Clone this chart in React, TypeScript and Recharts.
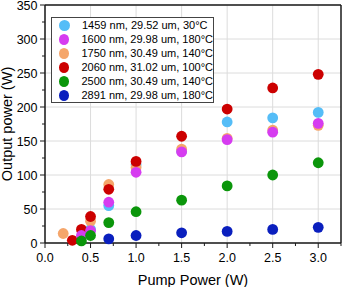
import { ScatterChart, Scatter, XAxis, YAxis, CartesianGrid, Legend } from "recharts"

// pump power (W) and output power (W) per wavelength / core / temperature
const pump1459 = [0.5, 0.7, 1.0, 1.5, 2.0, 2.5, 3.0]
const out1459 = [20, 55, 115, 135, 178, 184, 192]

const pump1600 = [0.4, 0.5, 0.7, 1.0, 1.5, 2.0, 2.5, 3.0]
const out1600 = [11, 18, 60, 104, 134, 152, 163, 176]

const pump1750 = [0.2, 0.5, 0.7, 1.0, 1.5, 2.0, 2.5, 3.0]
const out1750 = [14, 32, 86, 111, 138, 154, 166, 173]

const pump2060 = [0.3, 0.4, 0.5, 0.7, 1.0, 1.5, 2.0, 2.5, 3.0]
const out2060 = [4, 20, 39, 79, 120, 157, 197, 228, 248]

const pump2500 = [0.4, 0.5, 0.7, 1.0, 1.5, 2.0, 2.5, 3.0]
const out2500 = [3, 11, 30, 46, 63, 84, 100, 118]

const pump2891 = [0.7, 1.0, 1.5, 2.0, 2.5, 3.0]
const out2891 = [6, 11, 15, 17, 20, 23]

const xTicks = [0, 0.25, 0.5, 0.75, 1, 1.25, 1.5, 1.75, 2, 2.25, 2.5, 2.75, 3, 3.25]
const xMajor = [0, 0.5, 1, 1.5, 2, 2.5, 3]
const yTicks = [0, 25, 50, 75, 100, 125, 150, 175, 200, 225, 250, 275, 300, 325, 350]
const yMajor = [0, 50, 100, 150, 200, 250, 300, 350]

const font = "'Liberation Sans', Arial, sans-serif"
const axisColor = "#1a1a1a"

const series = [
  { name: "1459 nm, 29.52 um, 30°C", color: "#55bdf7", x: pump1459, y: out1459 },
  { name: "1600 nm, 29.98 um, 180°C", color: "#d63cf0", x: pump1600, y: out1600 },
  { name: "1750 nm, 30.49 um, 140°C", color: "#f5a66b", x: pump1750, y: out1750 },
  { name: "2060 nm, 31.02 um, 100°C", color: "#cc0000", x: pump2060, y: out2060 },
  { name: "2500 nm, 30.49 um, 140°C", color: "#0b960b", x: pump2500, y: out2500 },
  { name: "2891 nm, 29.98 um, 180°C", color: "#0a1fbe", x: pump2891, y: out2891 },
]

// draw order (which dot sits on top)
const drawOrder = [0, 2, 3, 1, 4, 5]

const toPoints = (xs: number[], ys: number[]) => xs.map((x, i) => ({ x, y: ys[i] }))

const isMajorX = (v: number) => xMajor.includes(v)
const isMajorY = (v: number) => yMajor.includes(v)

const BottomTick = (props: any) => {
  const { x, y, payload } = props
  const major = isMajorX(payload.value)
  return (
    <g>
      <line x1={x} x2={x} y1={y} y2={y + (major ? 5 : 3)} stroke={axisColor} strokeWidth={1} />
      {major && (
        <text x={x} y={y + 18.5} textAnchor="middle" fontSize={12.5} fontFamily={font} fill="#000">
          {payload.value.toFixed(1)}
        </text>
      )}
    </g>
  )
}

const TopTick = (props: any) => {
  const { x, y, payload } = props
  const major = isMajorX(payload.value)
  return <line x1={x} x2={x} y1={y} y2={y + (major ? 4 : 2.5)} stroke={axisColor} strokeWidth={1} />
}

const LeftTick = (props: any) => {
  const { x, y, payload } = props
  const major = isMajorY(payload.value)
  return (
    <g>
      <line x1={x} x2={x - (major ? 5 : 3)} y1={y} y2={y} stroke={axisColor} strokeWidth={1} />
      {major && (
        <text x={x - 7.5} y={y} dy="0.36em" textAnchor="end" fontSize={12.5} fontFamily={font} fill="#000">
          {payload.value}
        </text>
      )}
    </g>
  )
}

const RightTick = (props: any) => {
  const { x, y, payload } = props
  const major = isMajorY(payload.value)
  return <line x1={x} x2={x - (major ? 4 : 2.5)} y1={y} y2={y} stroke={axisColor} strokeWidth={1} />
}

const XTitle = (props: any) => {
  const { viewBox } = props
  return (
    <text x={viewBox.x + viewBox.width / 2} y={viewBox.y + 42} textAnchor="middle" fontSize={14.5} fontFamily={font} fill="#000">
      Pump Power (W)
    </text>
  )
}

const YTitle = (props: any) => {
  const { viewBox } = props
  const cx = viewBox.x + 12
  const cy = viewBox.y + viewBox.height / 2
  return (
    <text x={cx} y={cy} transform={`rotate(-90, ${cx}, ${cy})`} textAnchor="middle" fontSize={14.5} fontFamily={font} fill="#000">
      Output power (W)
    </text>
  )
}

const LegendBox = () => (
  <div
    style={{
      border: "1px solid #444",
      background: "#fff",
      width: 163,
      paddingTop: 0,
      fontFamily: font,
      fontSize: 11,
      color: "#000",
      boxSizing: "border-box",
    }}
  >
    {series.map((s) => (
      <div key={s.name} style={{ display: "flex", alignItems: "center", height: 14 }}>
        <span
          style={{
            display: "inline-block",
            width: 11,
            height: 11,
            borderRadius: "50%",
            background: s.color,
            marginLeft: 7,
            marginRight: 12,
          }}
        />
        <span style={{ whiteSpace: "nowrap" }}>{s.name}</span>
      </div>
    ))}
  </div>
)

export default function App() {
  return (
    <div style={{ position: "absolute", left: 0, top: 0, width: 342, height: 287, background: "#fff" }}>
      <ScatterChart width={342} height={287} margin={{ top: 5, right: 1, bottom: 0, left: 0 }}>
        <CartesianGrid
          xAxisId="x"
          yAxisId="y"
          stroke="#dcdcdc"
          strokeWidth={1}
          verticalValues={xMajor}
          horizontalValues={yMajor}
        />
        <XAxis
          xAxisId="x"
          type="number"
          dataKey="x"
          domain={[0, 3.25]}
          ticks={xTicks}
          interval={0}
          height={44}
          tickSize={0}
          tickMargin={0}
          tickLine={false}
          tick={<BottomTick />}
          axisLine={{ stroke: axisColor, strokeWidth: 1.5 }}
          label={<XTitle />}
        />
        <XAxis
          xAxisId="top"
          orientation="top"
          mirror
          type="number"
          domain={[0, 3.25]}
          ticks={xTicks}
          interval={0}
          tickSize={0}
          tickMargin={0}
          tickLine={false}
          tick={<TopTick />}
          axisLine={{ stroke: axisColor, strokeWidth: 1.5 }}
        />
        <YAxis
          yAxisId="y"
          type="number"
          dataKey="y"
          domain={[0, 350]}
          ticks={yTicks}
          interval={0}
          width={45}
          tickSize={0}
          tickMargin={0}
          tickLine={false}
          tick={<LeftTick />}
          axisLine={{ stroke: axisColor, strokeWidth: 1.5 }}
          label={<YTitle />}
        />
        <YAxis
          yAxisId="right"
          orientation="right"
          mirror
          type="number"
          domain={[0, 350]}
          ticks={yTicks}
          interval={0}
          tickSize={0}
          tickMargin={0}
          tickLine={false}
          tick={<RightTick />}
          axisLine={{ stroke: axisColor, strokeWidth: 1.5 }}
        />
        <Legend
          layout="vertical"
          align="center"
          verticalAlign="middle"
          wrapperStyle={{ left: 51, top: 17, width: "auto", height: "auto" }}
          content={() => <LegendBox />}
        />
        {drawOrder.map((i) => {
          const s = series[i]
          return (
            <Scatter
              key={s.name}
              name={s.name}
              xAxisId="x"
              yAxisId="y"
              data={toPoints(s.x, s.y)}
              fill={s.color}
              isAnimationActive={false}
              shape={(p: any) => <circle cx={p.cx} cy={p.cy} r={5.4} fill={s.color} />}
            />
          )
        })}
      </ScatterChart>
    </div>
  )
}
